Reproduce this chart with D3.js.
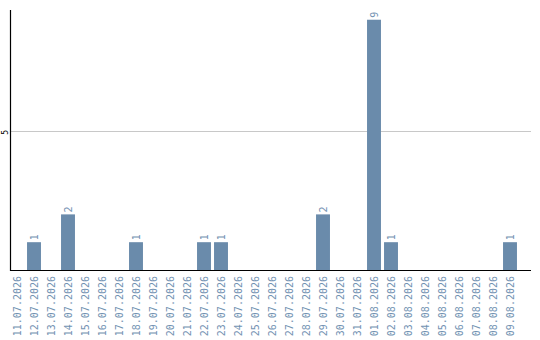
<!DOCTYPE html>
<html>
<head>
<meta charset="utf-8">
<script src="https://cdn.jsdelivr.net/npm/d3@7"></script>
<style>
  html, body { margin: 0; padding: 0; background: #fff; }
  svg { display: block; }
</style>
</head>
<body>
<svg id="chart" width="540" height="340"></svg>
<script>
// Daily counts, 11.07.2026 – 09.08.2026
const dates = [
  "11.07.2026","12.07.2026","13.07.2026","14.07.2026","15.07.2026","16.07.2026",
  "17.07.2026","18.07.2026","19.07.2026","20.07.2026","21.07.2026","22.07.2026",
  "23.07.2026","24.07.2026","25.07.2026","26.07.2026","27.07.2026","28.07.2026",
  "29.07.2026","30.07.2026","31.07.2026","01.08.2026","02.08.2026","03.08.2026",
  "04.08.2026","05.08.2026","06.08.2026","07.08.2026","08.08.2026","09.08.2026"
];
const counts = [
  0,1,0,2,0,0,
  0,1,0,0,0,1,
  1,0,0,0,0,0,
  2,0,0,9,1,0,
  0,0,0,0,0,1
];
const yTicks = [5];

const svg = d3.select("#chart");
const barColor = "#6a8bab";
const labelColor = "#7292b2";
const font = "DejaVu Sans Mono, monospace";

const x = d3.scaleBand()
  .domain(dates)
  .range([8.5, 518.5])
  .paddingInner(0.18)
  .paddingOuter(0.09);

const y = d3.scaleLinear()
  .domain([0, 9.35])
  .range([270, 10]);

// gridlines
svg.append("g")
  .selectAll("line")
  .data(yTicks)
  .join("line")
  .attr("x1", 11).attr("x2", 531)
  .attr("y1", d => Math.round(y(d)) + 0.5)
  .attr("y2", d => Math.round(y(d)) + 0.5)
  .attr("stroke", "#c8c8c8")
  .attr("stroke-width", 1);

const points = dates.map((d, i) => ({ date: d, value: counts[i] })).filter(d => d.value > 0);

// bars
svg.append("g")
  .selectAll("rect")
  .data(points)
  .join("rect")
  .attr("x", d => x(d.date))
  .attr("width", x.bandwidth())
  .attr("y", d => y(d.value))
  .attr("height", d => y(0) - y(d.value))
  .attr("fill", barColor);

// value labels above bars
svg.append("g")
  .selectAll("text")
  .data(points)
  .join("text")
  .attr("transform", d => `translate(${x(d.date) + x.bandwidth() / 2 + 3.5},${y(d.value) - 2}) rotate(-90)`)
  .attr("text-anchor", "start")
  .attr("font-family", font)
  .attr("font-size", "10px")
  .attr("fill", labelColor)
  .text(d => d.value);

// x axis
const xAxis = svg.append("g")
  .attr("transform", "translate(0,270)")
  .call(d3.axisBottom(x).tickSize(0).tickPadding(0));
xAxis.select(".domain").remove();
xAxis.selectAll("text")
  .attr("transform", "translate(3.5,6) rotate(-90)")
  .attr("dy", 0)
  .attr("y", 0)
  .attr("x", 0)
  .attr("text-anchor", "end")
  .attr("font-family", font)
  .attr("font-size", "10px")
  .attr("fill", labelColor);
svg.append("line")
  .attr("x1", 10).attr("x2", 531)
  .attr("y1", 270.5).attr("y2", 270.5)
  .attr("stroke", "#000").attr("stroke-width", 1.2);

// y axis
svg.append("line")
  .attr("x1", 10.5).attr("x2", 10.5)
  .attr("y1", 10).attr("y2", 271)
  .attr("stroke", "#000").attr("stroke-width", 1.2);
svg.append("g")
  .selectAll("text")
  .data(yTicks)
  .join("text")
  .attr("transform", d => `translate(8,${y(d) + 1.5}) rotate(-90)`)
  .attr("text-anchor", "middle")
  .attr("font-family", font)
  .attr("font-size", "8px")
  .attr("fill", "#000")
  .text(d => d);
</script>
</body>
</html>
